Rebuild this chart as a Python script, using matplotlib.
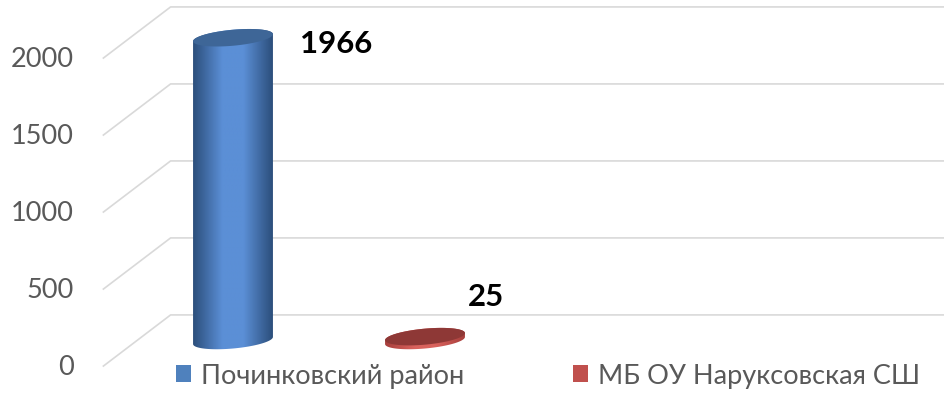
import numpy as np
import matplotlib
matplotlib.use("Agg")
import matplotlib.pyplot as plt
from matplotlib.patches import Polygon, Patch
from matplotlib.colors import LinearSegmentedColormap

plt.rcParams['font.family'] = ['Lato', 'DejaVu Sans']

# data
categories = ["Починковский район", "МБ ОУ Наруксовская СШ"]
values = [1966, 25]
yticks = [0, 500, 1000, 1500, 2000]

# style
side_colors = [("#2c4f7c", "#5b8fd6"), ("#a83f3c", "#d9625d")]
cap_colors = ["#3e6697", "#8e3836"]
legend_colors = ["#4f81bd", "#c0504d"]
label_offsets = [(67, -5), (43, 41)]  # pixels from top of bar
grid_color = "#d9d9d9"
text_color = "#595959"

DX = 0.175   # half depth, categories
DY = 166     # half depth, value units
A = 0.208    # cylinder half width
B = 52       # ellipse half height
K = 23       # ellipse tilt

fig = plt.figure(figsize=(9.44, 4.02), dpi=100)
ax = fig.add_axes([0, 0, 1, 1])
ax.set_axis_off()
x_min, x_max = -1.2135, 3.703
y_min, y_max = -392.9, 2217.5

# gridlines: floor diagonal + back wall
for v in yticks:
    ax.plot([-0.5 - DX, -0.5 + DX, x_max], [v - DY, v + DY, v + DY],
            color=grid_color, lw=1.2, zorder=1)
    ax.text(-0.5 - DX - 0.155, v - DY, str(v), ha='right', va='center',
            fontsize=19.5, color=text_color)


def ellipse(cx, cy, t):
    return np.column_stack([cx + A * np.cos(t), cy + B * np.sin(t) + K * np.cos(t)])


for i, v in enumerate(values):
    cx = i
    lower = ellipse(cx, 0, np.linspace(np.pi, 2 * np.pi, 60))
    upper = ellipse(cx, v, np.linspace(0, np.pi, 60))
    body = Polygon(np.vstack([lower, upper]), closed=True, facecolor='none',
                   edgecolor='none')
    ax.add_patch(body)
    dark, light = side_colors[i]
    cmap = LinearSegmentedColormap.from_list("c", [dark, light, light, dark],
                                             N=256)
    grad = np.concatenate([np.linspace(0, 0.45, 50), np.linspace(0.55, 1, 50)])
    img = ax.imshow(grad[None, :], cmap=cmap, aspect='auto',
                    extent=(cx - A, cx + A, -B - K - 10, v + B + K + 10),
                    origin='lower', zorder=2, interpolation='bilinear')
    img.set_clip_path(body)
    cap = Polygon(ellipse(cx, v, np.linspace(0, 2 * np.pi, 120)), closed=True,
                  facecolor=cap_colors[i], edgecolor='none', zorder=3)
    ax.add_patch(cap)
    ax.annotate(str(v), (cx, v), xytext=label_offsets[i],
                textcoords='offset pixels', ha='left', va='center',
                fontsize=22.5, fontweight='bold', color='black', zorder=4)

ax.set_xlim(x_min, x_max)
ax.set_ylim(y_min, y_max)

handles = [Patch(facecolor=c, edgecolor='none') for c in legend_colors]
fig.legend(handles, categories, loc='lower left', bbox_to_anchor=(0.166, -0.015),
           ncol=2, frameon=False, fontsize=19.5, labelcolor=text_color,
           handlelength=0.56, handleheight=0.56, handletextpad=0.38,
           columnspacing=4.0, borderpad=0.2)

fig.savefig("out.png", dpi=100)
